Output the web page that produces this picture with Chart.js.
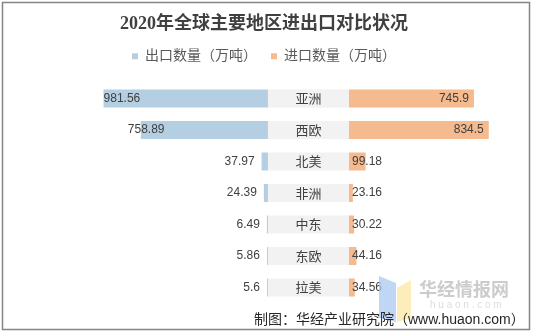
<!DOCTYPE html>
<html>
<head>
<meta charset="utf-8">
<script src="https://cdn.jsdelivr.net/npm/chart.js@4.4.1/dist/chart.umd.min.js"></script>
<style>
    html, body { margin: 0; padding: 0; background: #ffffff; }
    #wrap { width: 534px; height: 335px; position: relative; }
</style>
</head>
<body>
<div id="wrap"><canvas id="tradeChart"></canvas></div>
<script>
// chart data
const categories = ['亚洲', '西欧', '北美', '非洲', '中东', '东欧', '拉美'];
const exportValues = [981.56, 758.89, 37.97, 24.39, 6.49, 5.86, 5.6];
const importValues = [745.9, 834.5, 99.18, 23.16, 30.22, 44.16, 34.56];
const seriesNames = ['出口数量（万吨）', '进口数量（万吨）'];

// half width of the middle label band, in x-axis units
const GAP = 242;

const CJK = '"Liberation Sans", "Noto Sans CJK SC", sans-serif';

// draws value labels, the region names and the footer / watermark
const labelPlugin = {
    id: 'tradeLabels',
    afterDatasetsDraw(chart) {
        const ctx = chart.ctx;
        const xs = chart.scales.x;
        const leftMost = xs.getPixelForValue(-GAP - Math.max(...exportValues));
        const expMeta = chart.getDatasetMeta(0);
        const impMeta = chart.getDatasetMeta(1);
        const bandMeta = chart.getDatasetMeta(2);

        ctx.save();
        ctx.textBaseline = 'middle';
        ctx.font = '12px ' + CJK;
        ctx.fillStyle = '#404040';

        expMeta.data.forEach((bar, i) => {
            const txt = String(exportValues[i]);
            const w = ctx.measureText(txt).width;
            const barLeft = Math.min(bar.x, bar.base);
            if (barLeft - 7 - w >= leftMost) {
                ctx.textAlign = 'right';
                ctx.fillText(txt, barLeft - 7, bar.y);
            } else {
                ctx.textAlign = 'left';
                ctx.fillText(txt, Math.max(leftMost, barLeft - 13), bar.y);
            }
        });

        impMeta.data.forEach((bar, i) => {
            const txt = String(importValues[i]);
            const w = ctx.measureText(txt).width;
            const start = Math.min(bar.x, bar.base);
            const end = Math.max(bar.x, bar.base);
            if (end - start > w + 12) {
                ctx.textAlign = 'right';
                ctx.fillText(txt, end - 5, bar.y);
            } else {
                ctx.textAlign = 'left';
                ctx.fillText(txt, start + 3, bar.y);
            }
        });

        ctx.font = '13px ' + CJK;
        ctx.textAlign = 'center';
        bandMeta.data.forEach((bar, i) => {
            ctx.fillText(categories[i], (bar.x + bar.base) / 2, bar.y + 1);
        });

        // watermark
        ctx.globalAlpha = 0.75;
        ctx.fillStyle = '#a9c8f2';
        ctx.beginPath();
        ctx.moveTo(379, 276); ctx.lineTo(396, 283); ctx.lineTo(396, 322); ctx.lineTo(379, 318);
        ctx.closePath(); ctx.fill();
        ctx.fillStyle = '#fbe7a4';
        ctx.beginPath();
        ctx.moveTo(397, 288); ctx.lineTo(411, 280); ctx.lineTo(411, 318); ctx.lineTo(397, 322);
        ctx.closePath(); ctx.fill();
        ctx.globalAlpha = 1;
        ctx.fillStyle = '#cccccc';
        ctx.textAlign = 'left';
        ctx.font = 'bold 18px "Noto Sans CJK SC", sans-serif';
        ctx.fillText('华经情报网', 419, 289);
        ctx.fillStyle = '#dddddd';
        ctx.font = '10px "Liberation Sans", sans-serif';
        ctx.fillText('h u a o n . c o m', 430, 305);

        // footer
        ctx.fillStyle = '#262626';
        ctx.font = '14px ' + CJK;
        ctx.fillText('制图：华经产业研究院（www.huaon.com）', 254, 320);

        // outer frame
        ctx.strokeStyle = '#858585';
        ctx.lineWidth = 1.5;
        ctx.strokeRect(2.5, 2.5, 527, 327);
        ctx.restore();
    }
};

function initializeTradeChart() {
    const canvas = document.getElementById('tradeChart');
    const ctx = canvas.getContext('2d');

    new Chart(ctx, {
        type: 'bar',
        data: {
            labels: categories,
            datasets: [
                {
                    label: seriesNames[0],
                    data: exportValues.map(v => [-GAP - v, -GAP]),
                    backgroundColor: '#b4cfe2',
                    grouped: false,
                    order: 1
                },
                {
                    label: seriesNames[1],
                    data: importValues.map(v => [GAP, GAP + v]),
                    backgroundColor: '#f5ba8e',
                    grouped: false,
                    order: 1
                },
                {
                    label: 'band',
                    data: categories.map(() => [-GAP, GAP]),
                    backgroundColor: '#f2f2f2',
                    grouped: false,
                    order: 2
                }
            ]
        },
        options: {
            indexAxis: 'y',
            responsive: true,
            maintainAspectRatio: false,
            animation: false,
            events: [],
            layout: {
                padding: { left: 10, right: 16, top: 0, bottom: 31.75 }
            },
            datasets: {
                bar: { categoryPercentage: 1, barPercentage: 0.57 }
            },
            scales: {
                x: { display: false, min: -1782, max: 1251 },
                y: { display: false }
            },
            plugins: {
                title: {
                    display: true,
                    text: '2020年全球主要地区进出口对比状况',
                    color: '#404040',
                    font: { family: '"Liberation Serif", "Noto Sans CJK SC", serif', size: 18, weight: 'bold' },
                    padding: { top: 13.7, bottom: 0 }
                },
                legend: {
                    display: true,
                    position: 'top',
                    labels: {
                        color: '#595959',
                        font: { family: CJK, size: 14 },
                        boxWidth: 6,
                        boxHeight: 6,
                        padding: 14,
                        filter: item => item.datasetIndex !== 2
                    }
                },
                // empty subtitle used as a spacer under the legend
                subtitle: {
                    display: true,
                    text: '',
                    weight: 500,
                    font: { size: 1, lineHeight: 1 },
                    padding: { top: 0, bottom: 8.45 }
                },
                tooltip: { enabled: false }
            }
        },
        plugins: [labelPlugin]
    });
}

document.addEventListener('DOMContentLoaded', initializeTradeChart);
</script>
</body>
</html>
